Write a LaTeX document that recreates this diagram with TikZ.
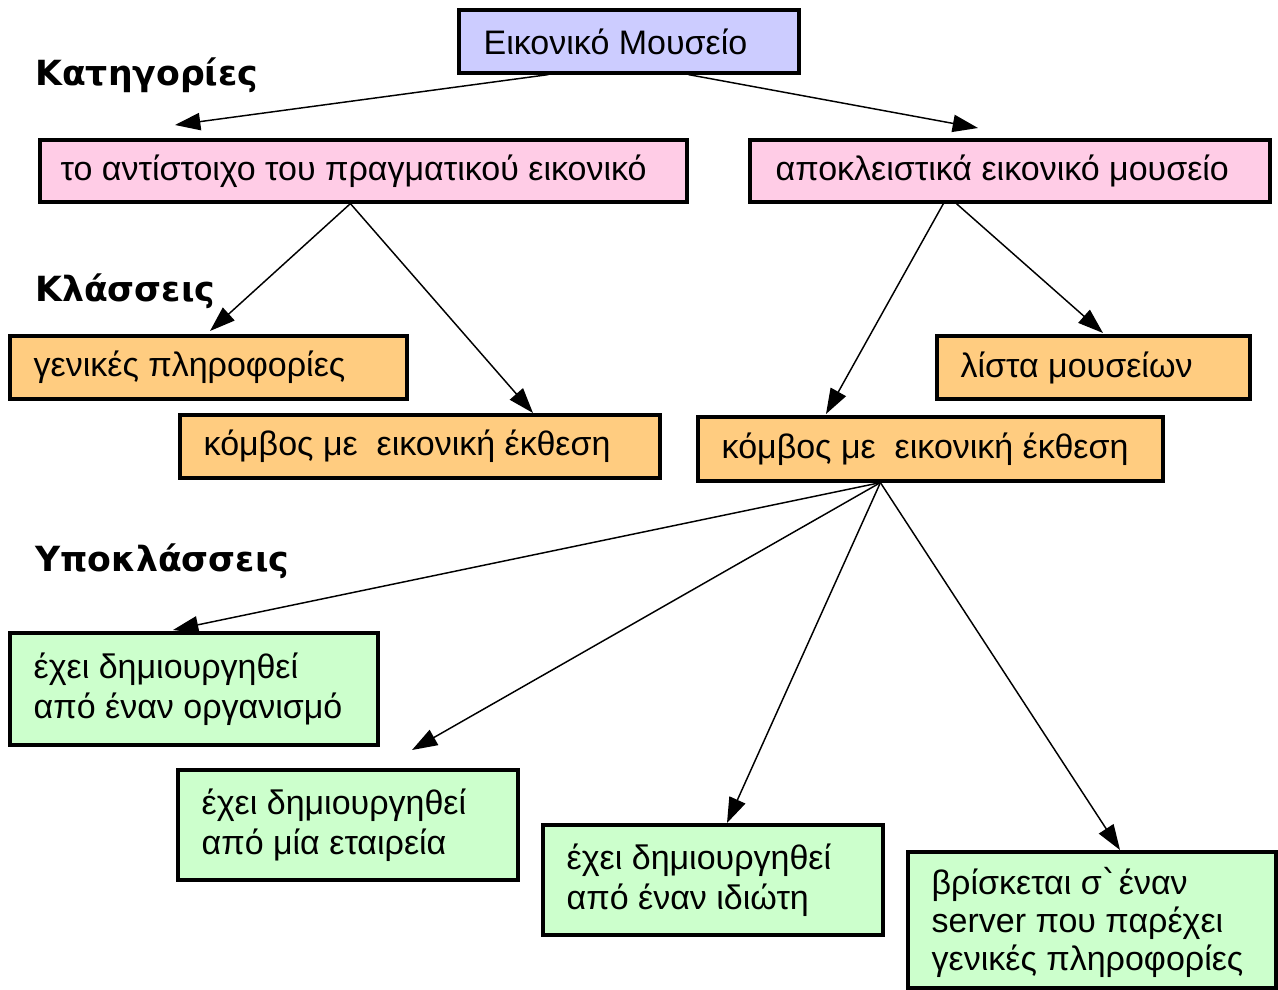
\documentclass[tikz,border=0pt]{standalone}
\usepackage{fontspec}
\setmainfont{Liberation Sans}
\newfontfamily\labfont{DejaVu Sans}
\usetikzlibrary{arrows.meta,calc}
\definecolor{lav}{RGB}{204,204,255}
\definecolor{pinkc}{RGB}{255,204,230}
\definecolor{orc}{RGB}{255,204,128}
\definecolor{grc}{RGB}{204,255,204}
\tikzset{
  boxst/.style={draw=black, line width=2.4pt, inner sep=0pt},
  txt/.style={anchor=west, inner sep=0pt, align=left, font=\fontsize{25.5}{28.5}\selectfont},
  lab/.style={anchor=base west, inner sep=0pt, font=\labfont\bfseries\fontsize{26}{30}\selectfont},
  arr/.style={line width=1.1pt, -{Triangle[length=19pt,width=13pt]}}
}
\begin{document}
\begin{tikzpicture}[x=0.75pt,y=-0.75pt]
\useasboundingbox (0,0) rectangle (1278,989);
% boxes
\node[boxst, fill=lav, minimum width=255pt, minimum height=47.25pt] (top) at (629,41.5) {};
\node[txt] (ttop) at ($(top.west)+(26,0)$) {Εικονικό Μουσείο};
\node[boxst, fill=pinkc, minimum width=485.25pt, minimum height=46.5pt] (pl) at (363.5,171) {};
\node[txt] (tpl) at ($(pl.west)+(22,0)$) {το αντίστοιχο του πραγματικού εικονικό};
\node[boxst, fill=pinkc, minimum width=390pt, minimum height=46.5pt] (pr) at (1010,171) {};
\node[txt] (tpr) at ($(pr.west)+(27,0)$) {αποκλειστικά εικονικό μουσείο};
\node[boxst, fill=orc, minimum width=297.75pt, minimum height=47.25pt] (o1) at (208.5,367.5) {};
\node[txt] (to1) at ($(o1.west)+(25,0)$) {γενικές πληροφορίες};
\node[boxst, fill=orc, minimum width=360pt, minimum height=47.25pt] (o2) at (420,446.5) {};
\node[txt] (to2) at ($(o2.west)+(25,0)$) {κόμβος με\ \ εικονική έκθεση};
\node[boxst, fill=orc, minimum width=234.75pt, minimum height=47.25pt] (o3) at (1093.5,367.5) {};
\node[txt] (to3) at ($(o3.west)+(25,0)$) {λίστα μουσείων};
\node[boxst, fill=orc, minimum width=348.75pt, minimum height=48pt] (o4) at (930.5,449) {};
\node[txt] (to4) at ($(o4.west)+(25,0)$) {κόμβος με\ \ εικονική έκθεση};
\node[boxst, fill=grc, minimum width=276pt, minimum height=84pt] (g1) at (194,689) {};
\node[txt] (tg1) at ($(g1.west)+(25,0)$) {έχει δημιουργηθεί\\[1.5pt]από έναν οργανισμό};
\node[boxst, fill=grc, minimum width=255pt, minimum height=82.5pt] (g2) at (348,825) {};
\node[txt] (tg2) at ($(g2.west)+(25,0)$) {έχει δημιουργηθεί\\[1.5pt]από μία εταιρεία};
\node[boxst, fill=grc, minimum width=255pt, minimum height=82.5pt] (g3) at (713,880) {};
\node[txt] (tg3) at ($(g3.west)+(25,0)$) {έχει δημιουργηθεί\\[1.5pt]από έναν ιδιώτη};
\node[boxst, fill=grc, minimum width=276pt, minimum height=102pt] (g4) at (1092,920) {};
\node[txt] (tg4) at ($(g4.west)+(25,2)$) {βρίσκεται σ{\labfont ˋ}έναν\\server που παρέχει\\γενικές πληροφορίες};
% level labels
\node[lab] (l1) at (35,85) {Κατηγορίες};
\node[lab] (l2) at (35,301) {Κλάσσεις};
\node[lab] (l3) at (35,571) {Υποκλάσσεις};
% arrow ends
\coordinate (e1) at (175,125);
\coordinate (e2) at (978,128);
\coordinate (e3) at (210,331);
\coordinate (e4) at (533,413);
\coordinate (e5) at (826,414);
\coordinate (e6) at (1103,333);
\coordinate (e7) at (173,630);
\coordinate (e8) at (412,750);
\coordinate (e9) at (727,823);
\coordinate (e10) at (1120,850);
% arrows
\draw[arr] ($(top.south west)+(91,0)$) -- (e1);
\draw[arr] ($(top.south west)+(231,0)$) -- (e2);
\draw[arr] ($(pl.south west)+(312,0)$) -- (e3);
\draw[arr] ($(pl.south west)+(312,0)$) -- (e4);
\draw[arr] ($(pr.south west)+(195,0)$) -- (e5);
\draw[arr] ($(pr.south west)+(208,0)$) -- (e6);
\draw[arr] ($(o4.south west)+(184,0)$) -- (e7);
\draw[arr] ($(o4.south west)+(184,0)$) -- (e8);
\draw[arr] ($(o4.south west)+(184,0)$) -- (e9);
\draw[arr] ($(o4.south west)+(184,0)$) -- (e10);
\end{tikzpicture}
\end{document}
